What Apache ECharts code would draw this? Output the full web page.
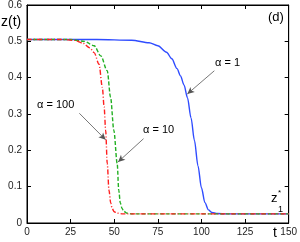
<!DOCTYPE html>
<html><head><meta charset="utf-8">
<script src="https://cdn.jsdelivr.net/npm/echarts@6/dist/echarts.min.js"></script>
<style>html,body{margin:0;padding:0;background:#fff}#c{width:300px;height:242px}</style>
</head><body><div id="c"></div>
<script>
const xTicks = [0, 25, 50, 75, 100, 125, 150];
const yTicks = [0, 0.1, 0.2, 0.3, 0.4, 0.5, 0.6];

const tA1 = [0, 40, 60, 70, 75, 80, 83, 86, 88, 90, 92, 94, 96, 98, 100, 102, 104, 106, 109, 115, 150];
const zA1 = [0.505, 0.505, 0.503, 0.496, 0.488, 0.47, 0.452, 0.425, 0.405, 0.38, 0.345, 0.29, 0.227, 0.158, 0.097, 0.056, 0.036, 0.029, 0.026, 0.025, 0.025];

const tA10 = [0, 25, 32.8, 38.5, 42.3, 46, 47.9, 49.8, 51.7, 52.6, 53.5, 54.5, 55.5, 57.3, 60, 150];
const zA10 = [0.505, 0.505, 0.5, 0.488, 0.46, 0.419, 0.346, 0.255, 0.164, 0.09, 0.055, 0.04, 0.032, 0.027, 0.025, 0.025];

const tA100 = [0, 20, 27, 32, 36, 38.5, 41.3, 43.2, 44.2, 45.1, 46, 47, 48, 48.8, 50, 51.7, 55, 150];
const zA100 = [0.505, 0.505, 0.503, 0.495, 0.482, 0.469, 0.437, 0.373, 0.32, 0.255, 0.164, 0.09, 0.055, 0.04, 0.031, 0.027, 0.025, 0.025];

// annotation arrows: [fromT, fromZ, toT, toZ]
const arrowA1 = [107.4, 0.419, 91.9, 0.355];
const arrowA10 = [66.8, 0.232, 52.2, 0.168];
const arrowA100 = [30.0, 0.302, 45.1, 0.229];

const zip = (a, b) => a.map((v, i) => [v, b[i]]);
const arrowLine = (a) => ({
  silent: true, symbol: ['none', 'arrow'], symbolSize: [5, 7], label: {show: false},
  lineStyle: {color: '#555', width: 0.8, type: 'solid'},
  data: [[{coord: [a[0], a[1]]}, {coord: [a[2], a[3]]}]]
});

const chart = echarts.init(document.getElementById('c'), null, {renderer: 'canvas'});
const font = 'Liberation Sans, Arial, sans-serif';
const axisCommon = {
  axisLine: {show: true, onZero: false, lineStyle: {color: '#000', width: 1}},
  axisTick: {show: true, inside: true, length: 4, lineStyle: {color: '#000', width: 1}},
  splitLine: {show: false}
};
chart.setOption({
  animation: false,
  grid: {left: 27, right: 8, top: 4, bottom: 19, show: true, borderColor: '#000', borderWidth: 1},
  xAxis: [
    Object.assign({type: 'value', min: 0, max: 150, interval: 25, position: 'bottom',
      axisLabel: {color: '#222', fontSize: 10, fontFamily: font, margin: 4,
        formatter: v => xTicks.includes(v) ? String(v) : ''}}, axisCommon),
    Object.assign({type: 'value', min: 0, max: 150, interval: 25, position: 'top',
      axisLabel: {show: false}}, axisCommon)
  ],
  yAxis: [
    Object.assign({type: 'value', min: 0, max: 0.6, interval: 0.1, position: 'left',
      axisLabel: {color: '#222', fontSize: 10, fontFamily: font, margin: 5,
        formatter: v => { const r = Math.round(v * 10) / 10; return yTicks.includes(r) ? (r === 0 ? '0' : r.toFixed(1)) : ''; }}}, axisCommon),
    Object.assign({type: 'value', min: 0, max: 0.6, interval: 0.1, position: 'right',
      axisLabel: {show: false}}, axisCommon)
  ],
  series: [
    {type: 'line', name: 'α = 1', data: zip(tA1, zA1), showSymbol: false, smooth: 0.3, smoothMonotone: 'x',
      lineStyle: {color: '#2f4cff', width: 1.4}, markLine: arrowLine(arrowA1), z: 3},
    {type: 'line', name: 'α = 10', data: zip(tA10, zA10), showSymbol: false, smooth: 0.3, smoothMonotone: 'x',
      lineStyle: {color: '#22b022', width: 1.4, type: [4, 2]}, markLine: arrowLine(arrowA10), z: 4},
    {type: 'line', name: 'α = 100', data: zip(tA100, zA100), showSymbol: false, smooth: 0.3, smoothMonotone: 'x',
      lineStyle: {color: '#ff2020', width: 1.4, type: [5, 2, 1, 2]}, markLine: arrowLine(arrowA100), z: 5}
  ],
  graphic: [
    {type: 'text', left: 1, top: 15, style: {text: 'z(t)', font: '14px ' + font, fill: '#000'}},
    {type: 'text', left: 268, top: 11, style: {text: '(d)', font: '13px ' + font, fill: '#000'}},
    {type: 'text', left: 273, top: 226, style: {text: 't', font: '14px ' + font, fill: '#000'}},
    {type: 'text', left: 271, top: 192, style: {text: 'z', font: '13px ' + font, fill: '#000'}},
    {type: 'text', left: 278, top: 189, style: {text: '*', font: '8px ' + font, fill: '#000'}},
    {type: 'text', left: 278, top: 205, style: {text: '1', font: '9px ' + font, fill: '#000'}},
    {type: 'text', left: 215, top: 57, style: {text: 'α = 1', font: '11px ' + font, fill: '#000'}},
    {type: 'text', left: 143, top: 124, style: {text: 'α = 10', font: '11px ' + font, fill: '#000'}},
    {type: 'text', left: 37, top: 99, style: {text: 'α = 100', font: '11px ' + font, fill: '#000'}}
  ]
});
</script></body></html>
